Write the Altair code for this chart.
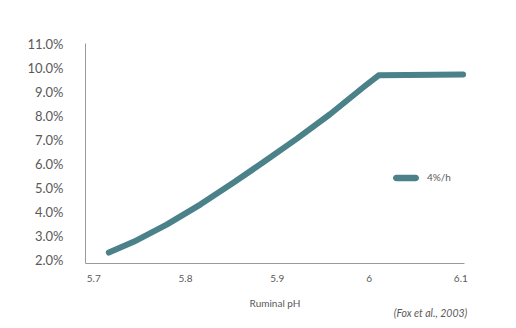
import altair as alt
import pandas as pd

# Data
ph = [5.717, 5.744, 5.780, 5.817, 5.853, 5.886, 5.922, 5.958, 5.995, 6.011, 6.103]
rate = [2.31, 2.76, 3.48, 4.33, 5.24, 6.11, 7.08, 8.10, 9.25, 9.73, 9.76]
series = ["4%/h"] * len(ph)
x_ticks = [5.7, 5.8, 5.9, 6.0, 6.1]
y_ticks = [2, 3, 4, 5, 6, 7, 8, 9, 10, 11]

df = pd.DataFrame({"ph": ph, "rate": rate, "series": series})

TEAL = "#4b8189"
GREY = "#595959"
FONT = "Lato"

pill = "M-0.76,-0.26 L0.76,-0.26 A0.26,0.26 0 0 1 0.76,0.26 L-0.76,0.26 A0.26,0.26 0 0 1 -0.76,-0.26 Z"

chart = (
    alt.Chart(df)
    .mark_line(strokeWidth=6, strokeCap="round", strokeJoin="round")
    .encode(
        x=alt.X(
            "ph:Q",
            scale=alt.Scale(domain=[5.691, 6.104], nice=False, zero=False),
            axis=alt.Axis(
                values=x_ticks,
                format=".1~f",
                title="Ruminal pH",
                grid=False,
                ticks=False,
                labelPadding=10,
                titlePadding=15,
                labelFontSize=10,
                titleFontSize=10,
                titleFontWeight="normal",
            ),
        ),
        y=alt.Y(
            "rate:Q",
            scale=alt.Scale(domain=[1.875, 11.08], nice=False, zero=False),
            axis=alt.Axis(
                values=y_ticks,
                labelExpr="format(datum.value, '.1f') + '%'",
                title=None,
                grid=False,
                ticks=False,
                labelPadding=22,
                labelFontSize=13,
            ),
        ),
        color=alt.Color(
            "series:N",
            scale=alt.Scale(range=[TEAL]),
            legend=alt.Legend(
                title=None,
                orient="none",
                legendX=308,
                legendY=122,
                symbolType=pill,
                symbolSize=650,
                symbolFillColor=TEAL,
                symbolStrokeWidth=0,
                labelFontSize=10,
                labelOffset=8,
                padding=0,
            ),
        ),
    )
    .properties(
        width=379,
        height=220,
        autosize=alt.AutoSizeParams(type="none"),
        padding={"left": 85, "top": 43, "right": 52, "bottom": 65},
        title=alt.Title(
            "(Fox et al., 2003)",
            orient="bottom",
            anchor="end",
            fontStyle="italic",
            fontWeight="normal",
            fontSize=10.5,
            color=GREY,
            font=FONT,
            offset=1,
        ),
    )
    .configure_axis(
        domainColor="#9a9a9a",
        domainWidth=1,
        labelColor=GREY,
        titleColor=GREY,
        labelFont=FONT,
        titleFont=FONT,
    )
    .configure_legend(labelColor=GREY, labelFont=FONT)
    .configure_view(stroke=None)
)

chart.save("out.html", embed_options={"renderer": "svg", "actions": False})
